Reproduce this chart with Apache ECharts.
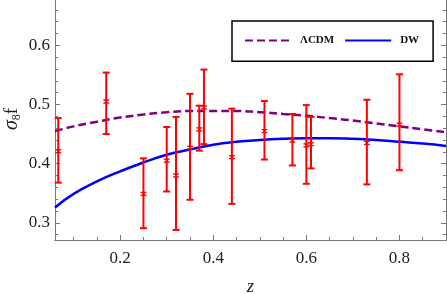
<!DOCTYPE html>
<html>
<head>
<meta charset="utf-8">
<script src="https://cdn.jsdelivr.net/npm/echarts@6/dist/echarts.min.js"></script>
<style>html,body{margin:0;padding:0;background:#fff}#c{width:447px;height:294px}</style>
</head>
<body>
<div id="c"></div>
<script>
// observational points
var zData = [0.067, 0.17, 0.25, 0.30, 0.32, 0.35, 0.37, 0.38, 0.44, 0.51, 0.57, 0.60, 0.61, 0.73, 0.80];
var fs8Data = [0.421, 0.505, 0.349, 0.405, 0.380, 0.427, 0.458, 0.495, 0.411, 0.455, 0.439, 0.431, 0.433, 0.435, 0.466];
var errLow = [0.053, 0.055, 0.058, 0.052, 0.092, 0.088, 0.036, 0.062, 0.079, 0.048, 0.042, 0.065, 0.041, 0.070, 0.077];
var errHigh = [0.056, 0.049, 0.060, 0.057, 0.099, 0.091, 0.040, 0.064, 0.082, 0.051, 0.045, 0.068, 0.046, 0.073, 0.085];
// model curves
var zCurve = [0.06, 0.1, 0.15, 0.2, 0.25, 0.3, 0.35, 0.4, 0.45, 0.5, 0.55, 0.6, 0.65, 0.7, 0.75, 0.8, 0.85, 0.9];
var lcdm = [0.455, 0.463, 0.471, 0.478, 0.483, 0.487, 0.489, 0.489, 0.489, 0.487, 0.484, 0.481, 0.477, 0.473, 0.468, 0.463, 0.458, 0.453];
var dw = [0.326, 0.349, 0.370, 0.387, 0.402, 0.415, 0.424, 0.432, 0.437, 0.440, 0.442, 0.443, 0.443, 0.442, 0.440, 0.437, 0.434, 0.430];
// ticks
var xMajor = [0.2, 0.4, 0.6, 0.8];
var xMinor = [0.1, 0.15, 0.25, 0.3, 0.35, 0.45, 0.5, 0.55, 0.65, 0.7, 0.75, 0.85];
var yMajor = [0.3, 0.4, 0.5, 0.6];
var yMinor = [0.28, 0.32, 0.34, 0.36, 0.38, 0.42, 0.44, 0.46, 0.48, 0.52, 0.54, 0.56, 0.58, 0.62, 0.64, 0.66];

var X_MIN = 0.06, X_MAX = 0.9, Y_MIN = 0.271, Y_MAX = 0.68;
var axisColor = '#777';
var serif = 'Liberation Serif';

function pairs(xs, ys) { return xs.map(function (x, i) { return [x, ys[i]]; }); }
var errData = zData.map(function (z, i) { return [z, fs8Data[i], fs8Data[i] - errLow[i], fs8Data[i] + errHigh[i]]; });

function xAx(gridIndex, ticks, withLabels, len) {
  return {
    type: 'value', gridIndex: gridIndex, min: X_MIN, max: X_MAX, position: 'bottom',
    axisLine: { show: true, lineStyle: { color: axisColor, width: 1 } },
    axisTick: { show: true, inside: true, length: len, customValues: ticks, lineStyle: { color: axisColor } },
    axisLabel: withLabels ? { show: true, customValues: ticks, margin: 10, fontFamily: serif, fontSize: 17, color: '#222',
      formatter: function (v) { return v.toFixed(1); } } : { show: false },
    splitLine: { show: false },
    name: withLabels ? 'z' : '', nameLocation: 'middle', nameGap: 37, nameMoveOverlap: false,
    nameTextStyle: { fontFamily: serif, fontStyle: 'italic', fontSize: 19, color: '#222' }
  };
}
function yAx(gridIndex, pos, ticks, withLabels, len) {
  var o = {
    type: 'value', gridIndex: gridIndex, min: Y_MIN, max: Y_MAX, position: pos,
    axisLine: { show: true, lineStyle: { color: axisColor, width: 1 } },
    axisTick: { show: true, inside: true, length: len, customValues: ticks, lineStyle: { color: axisColor } },
    axisLabel: withLabels ? { show: true, customValues: ticks, margin: 5, fontFamily: serif, fontSize: 17, color: '#222',
      formatter: function (v) { return v.toFixed(1); } } : { show: false },
    splitLine: { show: false }
  };
  if (withLabels) {
    o.name = '{s|σ}{n|8}{f|f}';
    o.nameLocation = 'middle';
    o.nameRotate = 90;
    o.nameGap = 32;
    o.nameMoveOverlap = false;
    o.nameTextStyle = {
      color: '#222',
      rich: {
        s: { fontFamily: serif, fontStyle: 'italic', fontSize: 20, color: '#222' },
        n: { fontFamily: serif, fontSize: 12, color: '#222', padding: [10, 0, 0, 0] },
        f: { fontFamily: serif, fontSize: 19, color: '#222' }
      }
    };
  }
  return o;
}

var chart = echarts.init(document.getElementById('c'), null, { renderer: 'canvas' });
chart.setOption({
  animation: false,
  backgroundColor: '#fff',
  grid: [
    { left: 55, right: 1, top: -2, bottom: 54, containLabel: false, outerBoundsMode: 'none' },
    { left: 55, right: 1, top: -2, bottom: 54, containLabel: false, outerBoundsMode: 'none' }
  ],
  xAxis: [xAx(0, xMajor, true, 5), xAx(1, xMinor, false, 3)],
  yAxis: [yAx(0, 'left', yMajor, true, 5), yAx(0, 'right', yMajor, false, 5),
          yAx(1, 'left', yMinor, false, 3), yAx(1, 'right', yMinor, false, 3)],
  legend: {
    left: 232, top: 21,
    padding: [14, 14, 15, 12],
    borderColor: '#000', borderWidth: 1.5, borderRadius: 0,
    backgroundColor: '#fff',
    itemWidth: 46, itemHeight: 14, itemGap: 10,
    itemStyle: { color: 'rgba(0,0,0,0)', borderColor: 'rgba(0,0,0,0)', borderWidth: 0 },
    textStyle: { fontFamily: serif, fontWeight: 'bold', fontSize: 11, color: '#111', padding: [0, 0, 0, 4] },
    data: ['ΛCDM', 'DW']
  },
  series: [
    {
      name: 'ΛCDM', type: 'line', xAxisIndex: 0, yAxisIndex: 0, smooth: true, symbol: 'none',
      data: pairs(zCurve, lcdm),
      lineStyle: { color: '#800080', width: 2.5, type: [8, 4] },
      itemStyle: { color: '#800080' }, z: 3
    },
    {
      name: 'DW', type: 'line', xAxisIndex: 0, yAxisIndex: 0, smooth: true, symbol: 'none',
      data: pairs(zCurve, dw),
      lineStyle: { color: '#0000ff', width: 2.5 },
      itemStyle: { color: '#0000ff' }, z: 3
    },
    {
      name: 'data', type: 'custom', xAxisIndex: 0, yAxisIndex: 0, z: 4,
      data: errData,
      renderItem: function (params, api) {
        var x = api.value(0);
        var c = api.coord([x, api.value(1)]);
        var lo = api.coord([x, api.value(2)]);
        var hi = api.coord([x, api.value(3)]);
        var st = { stroke: '#ff0000', lineWidth: 2 };
        var hw = 3.5;
        return {
          type: 'group',
          children: [
            { type: 'line', shape: { x1: c[0], y1: lo[1], x2: c[0], y2: hi[1] }, style: st },
            { type: 'line', shape: { x1: c[0] - hw, y1: lo[1], x2: c[0] + hw, y2: lo[1] }, style: st },
            { type: 'line', shape: { x1: c[0] - hw, y1: hi[1], x2: c[0] + hw, y2: hi[1] }, style: st },
            { type: 'line', shape: { x1: c[0] - 3, y1: c[1] - 1.5, x2: c[0] + 3, y2: c[1] - 1.5 }, style: { stroke: '#ff0000', lineWidth: 1.2 } },
            { type: 'line', shape: { x1: c[0] - 3, y1: c[1] + 1.5, x2: c[0] + 3, y2: c[1] + 1.5 }, style: { stroke: '#ff0000', lineWidth: 1.2 } },
            { type: 'line', shape: { x1: c[0] - 2, y1: c[1] - 1.5, x2: c[0] + 2, y2: c[1] + 1.5 }, style: { stroke: '#ff0000', lineWidth: 1 } },
            { type: 'line', shape: { x1: c[0] + 2, y1: c[1] - 1.5, x2: c[0] - 2, y2: c[1] + 1.5 }, style: { stroke: '#ff0000', lineWidth: 1 } }
          ]
        };
      }
    }
  ]
});
</script>
</body>
</html>
